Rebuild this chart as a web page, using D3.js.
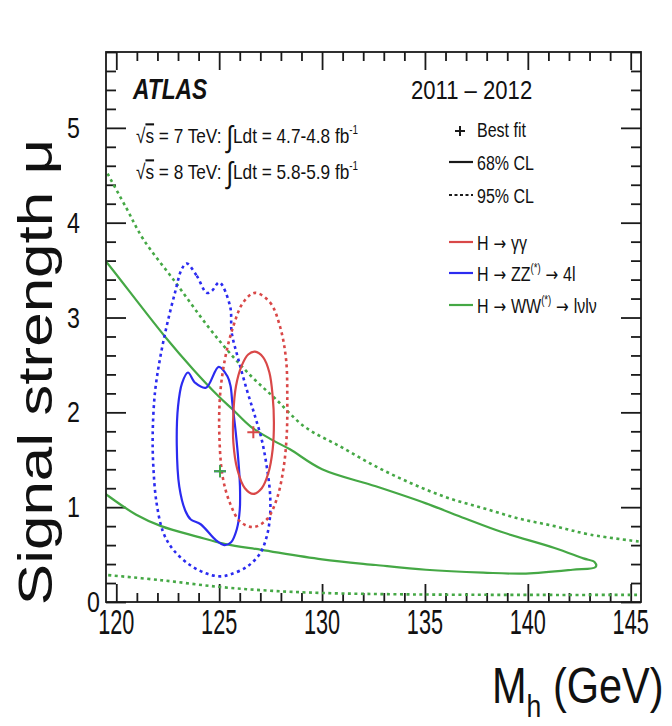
<!DOCTYPE html>
<html>
<head>
<meta charset="utf-8">
<script src="https://cdn.jsdelivr.net/npm/d3@7"></script>
<style>
  html, body { margin: 0; padding: 0; background: #fff; }
  svg { display: block; }
  text { font-family: "Liberation Sans", Arial, Helvetica, sans-serif; fill: #111; }
  .arrow { font-family: "DejaVu Sans", sans-serif; }
</style>
</head>
<body>
<svg id="chart" width="672" height="726"></svg>
<script>
// ---- data: contours in (mass [GeV], signal strength) ----
const xMajor = [120, 125, 130, 135, 140, 145];
const yMajor = [0, 1, 2, 3, 4, 5];
const xTickLabels = ["120", "125", "130", "135", "140", "145"];
const yTickLabels = ["0", "1", "2", "3", "4", "5"];

// H -> gamma gamma
const gg68 = [[126.74,2.64],[127.14,2.58],[127.44,2.42],[127.60,2.17],[127.66,1.89],[127.60,1.61],
  [127.39,1.36],[127.07,1.20],[126.66,1.14],[126.25,1.20],[125.88,1.40],[125.69,1.68],
  [125.69,1.99],[125.82,2.28],[126.09,2.49],[126.41,2.61]];
const gg95 = [[126.74,3.26],[127.47,3.16],[127.95,2.91],[128.25,2.56],[128.31,2.14],[128.28,1.75],
  [128.12,1.40],[127.79,1.08],[127.31,0.87],[126.66,0.79],[126.01,0.85],[125.53,1.04],
  [125.17,1.32],[125.01,1.75],[125.04,2.17],[125.28,2.56],[125.69,2.91],[126.17,3.16]];
const ggBest = [126.66, 1.79];

// H -> ZZ(*) -> 4l
const zz68 = [[123.48,2.42],[123.84,2.31],[124.36,2.26],[124.98,2.48],[125.40,2.38],[125.55,2.28],
  [125.64,2.10],[125.80,1.80],[125.93,1.50],[126.01,1.22],[126.00,0.97],[125.86,0.77],
  [125.58,0.63],[125.25,0.60],[124.85,0.65],[124.10,0.82],[123.62,0.87],[123.36,0.96],
  [123.06,1.22],[122.94,1.65],[123.00,2.06],[123.20,2.31]];
const zz95 = [[123.42,3.57],[123.91,3.44],[124.39,3.26],[124.64,3.28],[125.01,3.37],[125.53,3.12],
  [125.61,2.84],[125.93,2.56],[126.34,2.24],[126.74,1.96],[127.07,1.71],[127.31,1.43],
  [127.47,1.15],[127.47,0.90],[127.31,0.69],[126.98,0.51],[126.34,0.37],[125.53,0.29],
  [125.04,0.27],[124.39,0.30],[123.58,0.39],[122.77,0.55],[122.29,0.73],[121.96,1.04],
  [121.80,1.43],[121.77,1.78],[121.88,2.21],[122.12,2.56],[122.45,2.91],[122.85,3.26],[123.18,3.51]];
const zzBest = [125.04, 1.38];

// H -> WW(*) -> lvlv
const ww68 = [[119.3,3.64],[119.54,3.58],[122.36,2.80],[123.75,2.45],[124.97,2.17],[125.66,2.03],
  [126.53,1.85],[127.57,1.71],[128.44,1.61],[130.0,1.40],[132.61,1.22],[135.05,1.04],
  [136.96,0.88],[138.70,0.74],[141.30,0.57],[142.70,0.46],[143.25,0.42],[143.30,0.37],
  [142.17,0.34],[139.91,0.30],[137.83,0.31],[135.05,0.34],[132.61,0.39],[130.0,0.45],
  [127.05,0.55],[125.31,0.61],[123.92,0.69],[122.18,0.80],[120.97,0.92],[119.54,1.13],[119.3,1.17]];
const ww95Upper = [[119.3,4.64],[119.5,4.55],[120.5,4.15],[121.3,3.83],[122.88,3.37],[124.44,2.91],
  [125.66,2.59],[126.70,2.35],[127.75,2.14],[129.14,1.85],[130.88,1.64],[132.61,1.43],
  [134.35,1.25],[136.09,1.10],[137.83,0.99],[139.57,0.88],[141.30,0.80],[143.04,0.71],[145.7,0.63]];
const ww95Lower = [[119.3,0.29],[119.54,0.285],[122.18,0.23],[124.97,0.16],[127.4,0.12],
  [130.0,0.095],[134.35,0.08],[139.57,0.075],[145.7,0.075]];
const wwBest = [125.04, 1.38];

// ---- layout ----
const svg = d3.select("#chart");
const x = d3.scaleLinear().domain([119.5, 145.5]).range([106, 641]);
const y = d3.scaleLinear().domain([0, 5.8]).range([602, 52]);
const X0 = x.range()[0], X1 = x.range()[1], Y0 = y.range()[0], Y1 = y.range()[1];

const colors = { gg: "#d94848", zz: "#2b2bf0", ww: "#45a845", ink: "#1a1a1a" };

svg.append("defs").append("clipPath").attr("id", "frame")
  .append("rect").attr("x", X0).attr("y", Y1).attr("width", X1 - X0).attr("height", Y0 - Y1);

// ---- axes (ticks inside, on all four sides) ----
const xMinor = d3.range(120, 146, 1).filter(v => v % 5 !== 0);
const yMinor = d3.range(0, 5.81, 0.2).map(v => +v.toFixed(1)).filter(v => Math.abs(v - Math.round(v)) > 1e-6);

function styleAxis(g) {
  g.select(".domain").remove();
  g.selectAll("line").attr("stroke", colors.ink).attr("stroke-width", 1.8);
  g.selectAll("text").remove();
}
const axes = svg.append("g");
[[d3.axisBottom, Y0], [d3.axisTop, Y1]].forEach(([fn, pos]) => {
  axes.append("g").attr("transform", `translate(0,${pos})`)
    .call(fn(x).tickValues(xMajor).tickSize(-18)).call(styleAxis);
  axes.append("g").attr("transform", `translate(0,${pos})`)
    .call(fn(x).tickValues(xMinor).tickSize(-9)).call(styleAxis);
});
[[d3.axisLeft, X0], [d3.axisRight, X1]].forEach(([fn, pos]) => {
  axes.append("g").attr("transform", `translate(${pos},0)`)
    .call(fn(y).tickValues(yMajor).tickSize(-20)).call(styleAxis);
  axes.append("g").attr("transform", `translate(${pos},0)`)
    .call(fn(y).tickValues(yMinor).tickSize(-10)).call(styleAxis);
});

// tick labels (narrow, condensed look)
svg.append("g").selectAll("text").data(xMajor).join("text")
  .attr("transform", d => `translate(${x(d)},634) scale(0.62,1)`)
  .attr("text-anchor", "middle").attr("font-size", 35)
  .text((d, i) => xTickLabels[i]);
svg.append("g").selectAll("text").data(yMajor).join("text")
  .attr("transform", d => d === 0 ? `translate(100,${y(d) + 10}) scale(0.8,1)` : `translate(80,${y(d) + 10}) scale(0.8,1)`)
  .attr("text-anchor", "end").attr("font-size", 29)
  .text((d, i) => yTickLabels[i]);

// ---- contours ----
const plot = svg.append("g").attr("clip-path", "url(#frame)");
const lineOpen = d3.line().x(d => x(d[0])).y(d => y(d[1])).curve(d3.curveCatmullRom.alpha(0.5));
const lineClosed = d3.line().x(d => x(d[0])).y(d => y(d[1])).curve(d3.curveCatmullRomClosed.alpha(0.5));
const DASH = "3,3.5";

function contour(data, gen, color, dashed) {
  plot.append("path").datum(data).attr("d", gen)
    .attr("fill", "none").attr("stroke", color)
    .attr("stroke-width", dashed ? 2.6 : 2.2)
    .attr("stroke-dasharray", dashed ? DASH : null)
    .attr("stroke-linejoin", "round");
}
contour(ww95Upper, lineOpen, colors.ww, true);
contour(ww95Lower, lineOpen, colors.ww, true);
contour(ww68, lineOpen, colors.ww, false);
contour(zz95, lineClosed, colors.zz, true);
contour(zz68, lineClosed, colors.zz, false);
contour(gg95, lineClosed, colors.gg, true);
contour(gg68, lineClosed, colors.gg, false);

function cross(g, px, py, color, half) {
  g.append("path").attr("d", `M${px - half},${py}H${px + half}M${px},${py - half}V${py + half}`)
    .attr("stroke", color).attr("stroke-width", 2).attr("fill", "none");
}
cross(plot, x(zzBest[0]), y(zzBest[1]), colors.zz, 6);
cross(plot, x(wwBest[0]), y(wwBest[1]), colors.ww, 6);
cross(plot, x(ggBest[0]), y(ggBest[1]), colors.gg, 6);

// frame
svg.append("rect").attr("x", X0).attr("y", Y1).attr("width", X1 - X0).attr("height", Y0 - Y1)
  .attr("fill", "none").attr("stroke", colors.ink).attr("stroke-width", 1.8);

// ---- annotations ----
function label(px, py, sx, size, build, opts = {}) {
  const t = svg.append("text")
    .attr("transform", `translate(${px},${py}) scale(${sx},1)`)
    .attr("font-size", size);
  if (opts.weight) t.attr("font-weight", opts.weight);
  if (opts.style) t.attr("font-style", opts.style);
  build(t);
  return t;
}
label(133, 99, 0.76, 30, t => t.text("ATLAS"), { weight: "bold", style: "italic" });
label(411, 99, 0.85, 26, t => t.text("2011 – 2012"));

function lumiLine(py, energy, lumi) {
  label(136, py, 0.82, 21, t => {
    t.append("tspan").text("√");
    t.append("tspan").style("text-decoration", "overline").text("s");
    t.append("tspan").text(` = ${energy} TeV: `);
    t.append("tspan").attr("font-size", 30).attr("dy", 4).text("∫");
    t.append("tspan").attr("dy", -4).text(`Ldt = ${lumi} fb`);
    t.append("tspan").attr("font-size", 12).attr("dy", -9).text("-1");
  });
}
lumiLine(143, 7, "4.7-4.8");
lumiLine(179, 8, "5.8-5.9");

// legend
const legX0 = 449, legX1 = 473, legTx = 477;
function arrow(t, dy = 0) {
  t.append("tspan").attr("class", "arrow").attr("font-size", 19).attr("dy", dy).text(" → ");
}
function starred(t, base, tail) {
  t.append("tspan").text("H"); arrow(t); t.append("tspan").text(base);
  t.append("tspan").attr("font-size", 12).attr("dy", -9).text("(*)");
  arrow(t, 9); t.append("tspan").text(tail);
}
cross(svg, 460, 131, colors.ink, 5);
label(legTx, 137, 0.8, 20, t => t.text("Best fit"));
const legendRows = [
  { y: 162, color: colors.ink, dashed: false, build: t => t.text("68% CL") },
  { y: 195, color: colors.ink, dashed: true, build: t => t.text("95% CL") },
  { y: 242, color: colors.gg, dashed: false, build: t => {
      t.append("tspan").text("H"); arrow(t); t.append("tspan").text("γγ");
    } },
  { y: 273, color: colors.zz, dashed: false, build: t => starred(t, "ZZ", "4l") },
  { y: 305, color: colors.ww, dashed: false, build: t => starred(t, "WW", "lνlν") }
];
legendRows.forEach(r => {
  svg.append("line").attr("x1", legX0).attr("x2", legX1).attr("y1", r.y).attr("y2", r.y)
    .attr("stroke", r.color).attr("stroke-width", r.dashed ? 1.8 : 2.2)
    .attr("stroke-dasharray", r.dashed ? "3,2.5" : null);
  label(legTx, r.y + 8, 0.8, 20, r.build);
});

// axis titles
svg.append("text")
  .attr("transform", "translate(52,372) scale(0.78,1) rotate(-90)")
  .attr("text-anchor", "middle").attr("font-size", 62)
  .text("Signal strength μ");
label(492, 703, 0.83, 50, t => {
  t.append("tspan").text("M");
  t.append("tspan").attr("font-size", 32).attr("dy", 14).text("h");
  t.append("tspan").attr("dy", -14).text(" (GeV)");
});
</script>
</body>
</html>
